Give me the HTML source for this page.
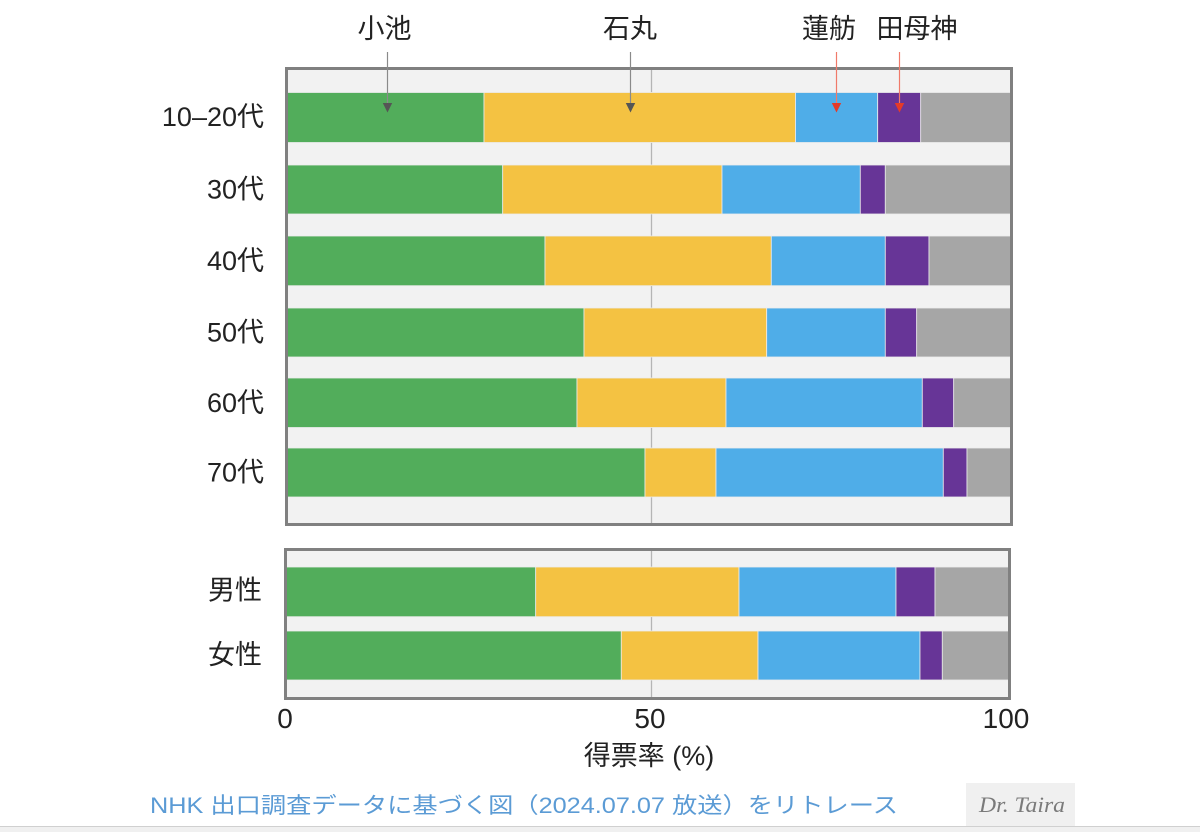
<!DOCTYPE html>
<html>
<head>
<meta charset="utf-8">
<style>
  html, body { margin:0; padding:0; background:#ffffff; }
  svg { display:block; }
  text { font-family: "Liberation Sans", "Noto Sans CJK JP", sans-serif; }
</style>
</head>
<body>
<svg width="1200" height="832" viewBox="0 0 1200 832" xmlns="http://www.w3.org/2000/svg">
  <rect x="0" y="0" width="1200" height="832" fill="#ffffff"/>

  <!-- Top labels -->
  <g font-size="27" fill="#222" text-anchor="middle">
    <text x="384.5" y="38">小池</text>
    <text x="630" y="38">石丸</text>
    <text x="829" y="38">蓮舫</text>
    <text x="917" y="38">田母神</text>
  </g>

  <!-- Top panel background -->
  <rect x="286.5" y="68.5" width="725" height="456" fill="#f2f2f2"/>
  <line x1="651.5" y1="70" x2="651.5" y2="523" stroke="#b5b5b5" stroke-width="1.3"/>

  <g stroke="#ececec" stroke-width="0.8">
    <!-- Row 1 -->
    <rect x="286" y="92.5" width="198" height="50" fill="#52ad5b"/>
    <rect x="484" y="92.5" width="311.5" height="50" fill="#f4c242"/>
    <rect x="795.5" y="92.5" width="82.2" height="50" fill="#4fade8"/>
    <rect x="877.7" y="92.5" width="43" height="50" fill="#673597"/>
    <rect x="920.7" y="92.5" width="90.3" height="50" fill="#a6a6a6"/>
    <!-- Row 2 -->
    <rect x="286" y="165" width="216.7" height="49" fill="#52ad5b"/>
    <rect x="502.7" y="165" width="219.3" height="49" fill="#f4c242"/>
    <rect x="722" y="165" width="138.3" height="49" fill="#4fade8"/>
    <rect x="860.3" y="165" width="25" height="49" fill="#673597"/>
    <rect x="885.3" y="165" width="125.7" height="49" fill="#a6a6a6"/>
    <!-- Row 3 -->
    <rect x="286" y="236" width="259" height="49.7" fill="#52ad5b"/>
    <rect x="545" y="236" width="226.3" height="49.7" fill="#f4c242"/>
    <rect x="771.3" y="236" width="114" height="49.7" fill="#4fade8"/>
    <rect x="885.3" y="236" width="43.7" height="49.7" fill="#673597"/>
    <rect x="929" y="236" width="82" height="49.7" fill="#a6a6a6"/>
    <!-- Row 4 -->
    <rect x="286" y="308" width="298" height="49" fill="#52ad5b"/>
    <rect x="584" y="308" width="182.7" height="49" fill="#f4c242"/>
    <rect x="766.7" y="308" width="118.6" height="49" fill="#4fade8"/>
    <rect x="885.3" y="308" width="31.4" height="49" fill="#673597"/>
    <rect x="916.7" y="308" width="94.3" height="49" fill="#a6a6a6"/>
    <!-- Row 5 -->
    <rect x="286" y="378" width="291" height="49.5" fill="#52ad5b"/>
    <rect x="577" y="378" width="149" height="49.5" fill="#f4c242"/>
    <rect x="726" y="378" width="196.3" height="49.5" fill="#4fade8"/>
    <rect x="922.3" y="378" width="31.4" height="49.5" fill="#673597"/>
    <rect x="953.7" y="378" width="57.3" height="49.5" fill="#a6a6a6"/>
    <!-- Row 6 -->
    <rect x="286" y="448" width="359" height="49" fill="#52ad5b"/>
    <rect x="645" y="448" width="71" height="49" fill="#f4c242"/>
    <rect x="716" y="448" width="227.3" height="49" fill="#4fade8"/>
    <rect x="943.3" y="448" width="23.7" height="49" fill="#673597"/>
    <rect x="967" y="448" width="44" height="49" fill="#a6a6a6"/>
  </g>
  <rect x="286.5" y="68.5" width="725" height="456" fill="none" stroke="#808080" stroke-width="3"/>

  <!-- Bottom panel -->
  <rect x="285.5" y="549.5" width="724" height="149" fill="#f2f2f2"/>
  <line x1="651.5" y1="551" x2="651.5" y2="697" stroke="#b5b5b5" stroke-width="1.3"/>
  <g stroke="#ececec" stroke-width="0.8">
    <rect x="285" y="567" width="250.7" height="49.7" fill="#52ad5b"/>
    <rect x="535.7" y="567" width="203.3" height="49.7" fill="#f4c242"/>
    <rect x="739" y="567" width="157" height="49.7" fill="#4fade8"/>
    <rect x="896" y="567" width="39" height="49.7" fill="#673597"/>
    <rect x="935" y="567" width="75" height="49.7" fill="#a6a6a6"/>

    <rect x="285" y="631" width="336.3" height="49" fill="#52ad5b"/>
    <rect x="621.3" y="631" width="136.7" height="49" fill="#f4c242"/>
    <rect x="758" y="631" width="162" height="49" fill="#4fade8"/>
    <rect x="920" y="631" width="22.3" height="49" fill="#673597"/>
    <rect x="942.3" y="631" width="67.7" height="49" fill="#a6a6a6"/>
  </g>
  <rect x="285.5" y="549.5" width="724" height="149" fill="none" stroke="#808080" stroke-width="3"/>

  <!-- Arrows -->
  <line x1="387.5" y1="52" x2="387.5" y2="104" stroke="#8a8a8a" stroke-width="1.2"/>
  <polygon points="382.8,103 392.2,103 387.5,112.5" fill="#555555"/>
  <line x1="630.5" y1="52" x2="630.5" y2="104" stroke="#8a8a8a" stroke-width="1.2"/>
  <polygon points="625.8,103 635.2,103 630.5,112.5" fill="#555555"/>
  <line x1="836.5" y1="52" x2="836.5" y2="104" stroke="#f07a6a" stroke-width="1.2"/>
  <polygon points="831.8,103 841.2,103 836.5,112.5" fill="#e53a28"/>
  <line x1="899.5" y1="52" x2="899.5" y2="104" stroke="#f07a6a" stroke-width="1.2"/>
  <polygon points="894.8,103 904.2,103 899.5,112.5" fill="#e53a28"/>

  <!-- Left category labels -->
  <g font-size="27" fill="#222" text-anchor="end">
    <text x="264" y="126">10–20代</text>
    <text x="264" y="198.5">30代</text>
    <text x="264" y="270">40代</text>
    <text x="264" y="341.5">50代</text>
    <text x="264" y="412">60代</text>
    <text x="264" y="481.5">70代</text>
    <text x="262" y="599.5">男性</text>
    <text x="262" y="664">女性</text>
  </g>

  <!-- X ticks -->
  <g font-size="28" fill="#222" text-anchor="middle">
    <text x="285" y="728">0</text>
    <text x="650" y="728">50</text>
    <text x="1006" y="728">100</text>
  </g>
  <text x="649" y="765" font-size="27" fill="#222" text-anchor="middle">得票率 (%)</text>

  <!-- Footer -->
  <text x="150" y="813" font-size="22" fill="#5b9bd5" textLength="748" lengthAdjust="spacingAndGlyphs">NHK 出口調査データに基づく図（2024.07.07 放送）をリトレース</text>

  <rect x="966" y="783" width="109" height="44" fill="#f0f0f0"/>
  <text x="979" y="812" font-size="22" fill="#7a7a7a" style="font-family:'Liberation Serif', serif; font-style:italic;" textLength="86" lengthAdjust="spacingAndGlyphs">Dr. Taira</text>

  <!-- bottom strip -->
  <rect x="0" y="827" width="1200" height="5" fill="#f0f0f0"/>
  <line x1="0" y1="826.5" x2="1200" y2="826.5" stroke="#d0d0d0" stroke-width="1"/>
</svg>
</body>
</html>
